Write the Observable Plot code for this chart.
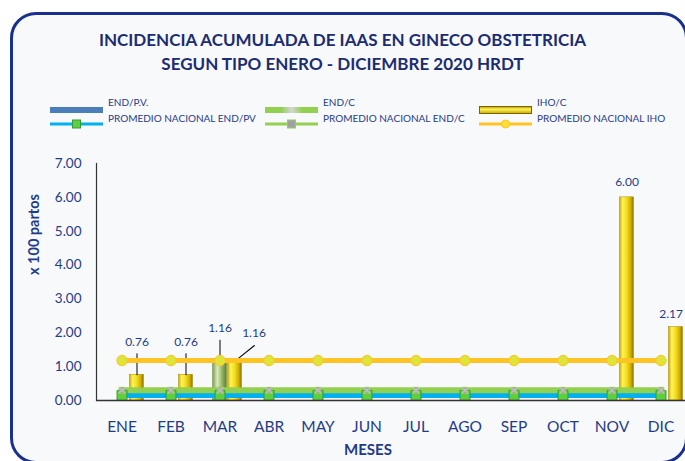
<!DOCTYPE html>
<html>
<head>
<meta charset="utf-8">
<script src="https://cdn.jsdelivr.net/npm/d3@7"></script>
<script src="https://cdn.jsdelivr.net/npm/@observablehq/plot@0.6"></script>
<style>
  body { margin: 0; background: #ffffff; }
  #wrap { position: relative; width: 685px; height: 461px; overflow: hidden; font-family: Lato, "Open Sans", sans-serif; }
  #frame { position: absolute; left: 10px; top: 12px; width: 672px; height: 446px; border: 3px solid #1a318c; border-radius: 26px; background: #f8f9fb; }
  #title { position: absolute; left: 0; top: 28px; width: 685px; text-align: center; font-weight: bold; font-size: 17px; line-height: 24px; color: #1b2c72; }
  .lg { position: absolute; font-size: 10px; color: #1f3c88; white-space: nowrap; line-height: 12px; }
  .sw { position: absolute; }
  #chart { position: absolute; left: 0; top: 140px; }
</style>
</head>
<body>
<div id="wrap">
  <div id="frame"></div>
  <div id="title">INCIDENCIA ACUMULADA DE IAAS EN GINECO OBSTETRICIA<br>SEGUN TIPO ENERO - DICIEMBRE 2020 HRDT</div>
  <div id="legend"></div>
  <div id="chart"></div>
</div>
<script>
// ---------- data ----------
const months = ["ENE", "FEB", "MAR", "ABR", "MAY", "JUN", "JUL", "AGO", "SEP", "OCT", "NOV", "DIC"];
const seriesNames = ["END/P.V.", "END/C", "IHO/C"];
const endPV = [0, 0, 0, 0, 0, 0, 0, 0, 0, 0, 0, 0];
const endC  = [0, 0, 1.16, 0, 0, 0, 0, 0, 0, 0, 0, 0];
const ihoC  = [0.76, 0.76, 1.16, 0, 0, 0, 0, 0, 0, 0, 6.00, 2.17];
const promEndPV = [0.15, 0.15, 0.15, 0.15, 0.15, 0.15, 0.15, 0.15, 0.15, 0.15, 0.15, 0.15];
const promEndC  = [0.30, 0.30, 0.30, 0.30, 0.30, 0.30, 0.30, 0.30, 0.30, 0.30, 0.30, 0.30];
const promIHO   = [1.18, 1.18, 1.18, 1.18, 1.18, 1.18, 1.18, 1.18, 1.18, 1.18, 1.18, 1.18];
const lineNames = ["PROMEDIO NACIONAL END/PV", "PROMEDIO NACIONAL END/C", "PROMEDIO NACIONAL IHO"];
const yTicks = [0, 1, 2, 3, 4, 5, 6, 7];
const yTitle = "x 100 partos";
const xTitle = "MESES";

// ---------- derived tables ----------
const seriesValues = [endPV, endC, ihoC];
const rows = months.flatMap((m, i) => seriesNames.map((s, k) => ({month: m, series: s, value: seriesValues[k][i]})));
const avgRows = (arr) => months.map((m, i) => ({month: m, value: arr[i]}));
const avgPV = avgRows(promEndPV), avgC = avgRows(promEndC), avgI = avgRows(promIHO);

// ---------- styles ----------
const navy = "#1f3c88";
const dxOf = {"END/P.V.": -15, "END/C": 0, "IHO/C": 15};
const fillOf = {"END/P.V.": "#4a7ebb", "END/C": "url(#gEndC)", "IHO/C": "url(#gIHO)"};
const inset = 17.5;
const labelSize = 12;

const labelled = rows.filter(d => d.value > 0);
const monthCount = d3.rollup(labelled, v => v.length, d => d.month);
const small = labelled.filter(d => d.value < 2);
const vert = small.filter(d => !(monthCount.get(d.month) > 1 && d.series === "IHO/C"));
const diag = small.filter(d => monthCount.get(d.month) > 1 && d.series === "IHO/C");
const tall = labelled.filter(d => d.value >= 2);
const lastMonth = months[months.length - 1];
const lineShape = {draw(context, l) { context.moveTo(0, 0); context.lineTo(0, -l); }};

const marks = [];
for (const s of seriesNames) {
  marks.push(Plot.barY(rows.filter(d => d.series === s && d.value > 0), {
    x: "month", y: "value", dx: dxOf[s], insetLeft: inset, insetRight: inset,
    fill: fillOf[s], stroke: s === "IHO/C" ? "#a88a00" : "#6f8f45", strokeWidth: 0.5
  }));
}
// leader lines + value labels
for (const s of seriesNames) {
  const v = vert.filter(d => d.series === s);
  marks.push(Plot.vector(v, {x: "month", y: "value", dx: dxOf[s], length: 21, rotate: 0, anchor: "start", shape: lineShape, stroke: "#000", strokeWidth: 1}));
  marks.push(Plot.text(v, {x: "month", y: "value", dx: dxOf[s], dy: -33, text: d => d.value.toFixed(2), fill: navy, fontSize: labelSize}));
  const g = diag.filter(d => d.series === s);
  marks.push(Plot.vector(g, {x: "month", y: "value", dx: dxOf[s], length: 25, rotate: 51, anchor: "start", shape: lineShape, stroke: "#000", strokeWidth: 1}));
  marks.push(Plot.text(g, {x: "month", y: "value", dx: dxOf[s] + 19, dy: -28, text: d => d.value.toFixed(2), fill: navy, fontSize: labelSize}));
  const t = tall.filter(d => d.series === s);
  marks.push(Plot.text(t.filter(d => d.month !== lastMonth), {x: "month", y: "value", dx: dxOf[s], dy: -15, text: d => d.value.toFixed(2), fill: navy, fontSize: labelSize}));
  marks.push(Plot.text(t.filter(d => d.month === lastMonth), {x: "month", y: "value", dx: dxOf[s] + 7, dy: -13, textAnchor: "end", text: d => d.value.toFixed(2), fill: navy, fontSize: labelSize}));
}
// average lines
marks.push(Plot.lineY(avgPV, {x: "month", y: "value", stroke: "#00b0f0", strokeWidth: 5}));
marks.push(Plot.lineY(avgC, {x: "month", y: "value", stroke: "#92d050", strokeWidth: 6}));
marks.push(Plot.dot(avgPV, {x: "month", y: "value", symbol: "square", r: 5.6, fill: "#5fcf3f", stroke: "#2f9e36", strokeWidth: 1}));
marks.push(Plot.dot(avgC, {x: "month", y: "value", symbol: "square", r: 3.4, fill: "#a6a6a6", stroke: "#8fcf5a", strokeWidth: 0.8}));
marks.push(Plot.dot(avgC, {x: "month", y: "value", symbol: "times", r: 3, stroke: "#d0d0d0", strokeWidth: 1}));
marks.push(Plot.lineY(avgI, {x: "month", y: "value", stroke: "#ffc423", strokeWidth: 5}));
marks.push(Plot.dot(avgI, {x: "month", y: "value", r: 5.2, fill: "#dfe43a", stroke: "#ffc423", strokeWidth: 1}));
// axes
marks.push(Plot.frame({anchor: "left", stroke: "#333", strokeWidth: 1.2}));
marks.push(Plot.ruleY([0], {stroke: "#333", strokeWidth: 1.5}));
marks.push(Plot.axisY(yTicks, {tickSize: 0, tickPadding: 15, tickFormat: d => d.toFixed(2), fontSize: 13.5, color: navy, label: null}));
marks.push(Plot.axisX({tickSize: 0, tickPadding: 20, fontSize: 15.5, color: navy, label: null}));
marks.push(Plot.text([yTitle], {frameAnchor: "left", dx: -62, dy: -7, rotate: -90, text: d => d, fontWeight: "bold", fontSize: 14.5, fill: navy}));
marks.push(Plot.text([xTitle], {frameAnchor: "bottom", dx: -23, dy: 54, text: d => d, fontWeight: "bold", fontSize: 15, fill: navy}));

const chart = Plot.plot({
  width: 685, height: 321,
  marginLeft: 96, marginRight: 0, marginTop: 23, marginBottom: 61,
  style: {background: "transparent", fontFamily: "Lato, 'Open Sans', sans-serif", overflow: "visible"},
  x: {type: "band", domain: months, paddingInner: 0, paddingOuter: 0, axis: null},
  y: {domain: [0, 7], axis: null},
  marks
});

// gradients for the cylinder-like bars
const defs = d3.select(chart).insert("defs", ":first-child");
function grad(id, stops) {
  const g = defs.append("linearGradient").attr("id", id).attr("x1", "0").attr("x2", "1").attr("y1", "0").attr("y2", "0");
  for (const [o, c] of stops) g.append("stop").attr("offset", o).attr("stop-color", c);
}
grad("gIHO", [["0%", "#c9a800"], ["22%", "#fff25a"], ["50%", "#f3df20"], ["80%", "#cfae00"], ["100%", "#8c7000"]]);
grad("gEndC", [["0%", "#7e9f48"], ["35%", "#dbe8c6"], ["65%", "#98bd68"], ["100%", "#5b7d2f"]]);
document.getElementById("chart").appendChild(chart);

// ---------- legend ----------
const legend = document.getElementById("legend");
const cols = [50, 265, 479];
const sw = 53;
const row1 = 102, row2 = 118;
const swatches1 = [
  `<svg width="${sw}" height="8"><rect x="0" y="1" width="${sw}" height="6" fill="#4a7ebb"/></svg>`,
  `<svg width="${sw}" height="8"><defs><linearGradient id="lgC" x1="0" x2="1"><stop offset="0%" stop-color="#92d050"/><stop offset="30%" stop-color="#92d050"/><stop offset="50%" stop-color="#d6d6d6"/><stop offset="70%" stop-color="#92d050"/><stop offset="100%" stop-color="#92d050"/></linearGradient></defs><rect x="0" y="1" width="${sw}" height="6" fill="url(#lgC)"/></svg>`,
  `<svg width="${sw}" height="8"><defs><linearGradient id="lgI" x1="0" x2="0" y1="0" y2="1"><stop offset="0%" stop-color="#b89800"/><stop offset="40%" stop-color="#fff25a"/><stop offset="100%" stop-color="#c9a800"/></linearGradient></defs><rect x="0.5" y="0.5" width="${sw - 1}" height="7" fill="url(#lgI)" stroke="#7a6400" stroke-width="1"/></svg>`
];
const swatches2 = [
  `<svg width="${sw}" height="10"><line x1="0" x2="${sw}" y1="5" y2="5" stroke="#00b0f0" stroke-width="3"/><rect x="${sw/2 - 4}" y="1" width="8" height="8" fill="#5fcf3f" stroke="#2f9e36"/></svg>`,
  `<svg width="${sw}" height="10"><line x1="0" x2="${sw}" y1="5" y2="5" stroke="#92d050" stroke-width="3"/><rect x="${sw/2 - 4}" y="1" width="8" height="8" fill="#a0a0a0" stroke="#8fcf5a"/></svg>`,
  `<svg width="${sw}" height="10"><line x1="0" x2="${sw}" y1="5" y2="5" stroke="#ffc423" stroke-width="3"/><circle cx="${sw/2}" cy="5" r="4" fill="#ffe033" stroke="#ffc423"/></svg>`
];
seriesNames.forEach((s, k) => {
  legend.insertAdjacentHTML("beforeend", `<div class="sw" style="left:${cols[k]}px;top:${row1 - 4}px">${swatches1[k]}</div>`);
  legend.insertAdjacentHTML("beforeend", `<div class="lg" style="left:${cols[k] + sw + 5}px;top:${row1 - 6}px">${s}</div>`);
});
lineNames.forEach((s, k) => {
  legend.insertAdjacentHTML("beforeend", `<div class="sw" style="left:${cols[k]}px;top:${row2 - 5}px">${swatches2[k]}</div>`);
  legend.insertAdjacentHTML("beforeend", `<div class="lg" style="left:${cols[k] + sw + 5}px;top:${row2 - 6}px">${s}</div>`);
});
</script>
</body>
</html>
